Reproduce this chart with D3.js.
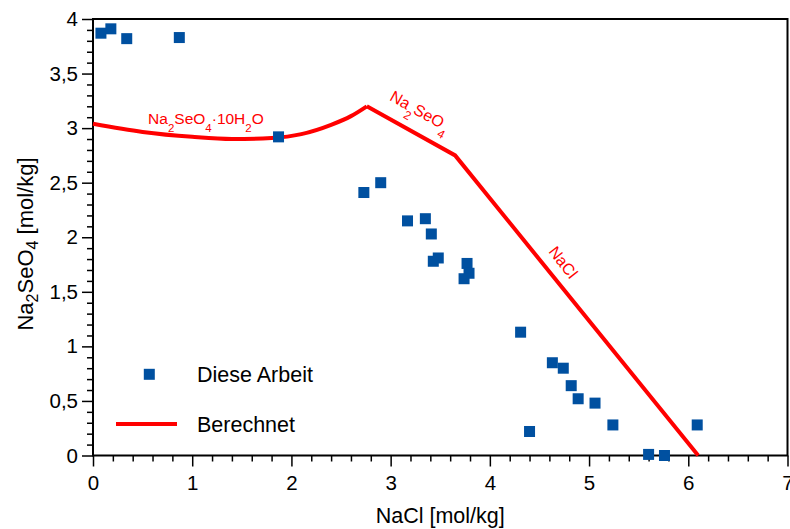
<!DOCTYPE html>
<html><head><meta charset="utf-8">
<script src="https://cdn.jsdelivr.net/npm/d3@7"></script>
<style>
body{margin:0;background:#fff;}
svg{display:block;font-family:"Liberation Sans",Arial,sans-serif;}
</style></head>
<body>
<svg id="chart" width="790" height="529"></svg>
<script>
// Experimental data ("Diese Arbeit")
const naclExp    = [0.08,0.18,0.34,0.87,1.87,2.73,2.90,3.17,3.35,3.41,3.48,3.43,3.77,3.79,3.74,4.31,4.63,4.74,4.82,4.89,5.06,5.24,4.40,5.60,5.76,6.09];
const na2seo4Exp = [3.87,3.91,3.82,3.83,2.92,2.41,2.50,2.15,2.17,2.03,1.81,1.78,1.76,1.67,1.62,1.13,0.85,0.80,0.64,0.52,0.48,0.28,0.22,0.01,0.00,0.28];
// Calculated solubility ("Berechnet"): decahydrate branch (curved) and Na2SeO4 / NaCl branches (straight)
const naclCalcHyd    = [0,0.5,1.0,1.4,1.8,2.1,2.4,2.6,2.76];
const na2seo4CalcHyd = [3.04,2.965,2.92,2.90,2.91,2.945,3.03,3.11,3.20];
const naclCalcAnh    = [2.76,3.65,6.1];
const na2seo4CalcAnh = [3.20,2.75,0];
const xTicks = [0,1,2,3,4,5,6,7];
const yTicks = [0,0.5,1,1.5,2,2.5,3,3.5,4];

const svg = d3.select("#chart");
const L=93, R=787.5, T=19, B=455.5;
const x = d3.scaleLinear().domain([0,7]).range([L,R]);
const y = d3.scaleLinear().domain([0,4]).range([B,T]);
const fmt = d => String(d).replace(".", ",");
const red = "#ff0000", blue = "#0050a0";
const FF = "Liberation Sans, Arial, sans-serif";

// minor ticks
const xMinor = d3.range(0,7.001,0.2).filter(v=>Math.abs(v-Math.round(v))>1e-6);
const yMinor = d3.range(0,4.001,0.1).filter(v=>Math.abs(v*2-Math.round(v*2))>1e-6);
svg.append("g").attr("transform",`translate(0,${B})`)
  .call(d3.axisBottom(x).tickValues(xMinor).tickSize(6).tickFormat(""))
  .call(g=>{g.select(".domain").remove(); g.selectAll("line").attr("stroke","#000").attr("stroke-width",1.5);});
svg.append("g").attr("transform",`translate(${L},0)`)
  .call(d3.axisLeft(y).tickValues(yMinor).tickSize(6).tickFormat(""))
  .call(g=>{g.select(".domain").remove(); g.selectAll("line").attr("stroke","#000").attr("stroke-width",1.5);});
// major ticks
svg.append("g").attr("transform",`translate(0,${B})`)
  .call(d3.axisBottom(x).tickValues(xTicks).tickSize(11).tickPadding(9).tickFormat(fmt))
  .call(g=>{g.select(".domain").remove(); g.selectAll("line").attr("stroke","#000").attr("stroke-width",1.5);
    g.selectAll("text").attr("font-size",20.5).attr("fill","#000").attr("font-family",FF);});
svg.append("g").attr("transform",`translate(${L},0)`)
  .call(d3.axisLeft(y).tickValues(yTicks).tickSize(11).tickPadding(4).tickFormat(fmt))
  .call(g=>{g.select(".domain").remove(); g.selectAll("line").attr("stroke","#000").attr("stroke-width",1.5);
    g.selectAll("text").attr("font-size",20.5).attr("fill","#000").attr("font-family",FF);});

// frame
svg.append("rect").attr("x",L).attr("y",T).attr("width",R-L).attr("height",B-T)
  .attr("fill","none").attr("stroke","#000").attr("stroke-width",2);

// calculated lines
svg.append("path").datum(naclCalcHyd.map((v,i)=>[v,na2seo4CalcHyd[i]]))
  .attr("d", d3.line().x(d=>x(d[0])).y(d=>y(d[1])).curve(d3.curveMonotoneX))
  .attr("fill","none").attr("stroke",red).attr("stroke-width",4);
svg.append("path").datum(naclCalcAnh.map((v,i)=>[v,na2seo4CalcAnh[i]]))
  .attr("d", d3.line().x(d=>x(d[0])).y(d=>y(d[1]))).attr("fill","none").attr("stroke",red).attr("stroke-width",4)
  .attr("stroke-linejoin","miter");

// experimental points
const ms = 11;
svg.append("g").selectAll("rect").data(naclExp.map((v,i)=>[v,na2seo4Exp[i]])).join("rect")
  .attr("x",d=>x(d[0])-ms/2).attr("y",d=>y(d[1])-ms/2).attr("width",ms).attr("height",ms).attr("fill",blue);

// annotations
function subText(sel, parts, fs, sfs, dy){
  parts.forEach(p=>{
    if(p.sub){ sel.append("tspan").attr("font-size",sfs).attr("dy",dy).text(p.t); }
    else { sel.append("tspan").attr("font-size",fs).attr("dy",p.after? -dy:0).text(p.t); }
  });
}
const t1 = svg.append("text").attr("x",x(0.555)).attr("y",y(3.04)).attr("fill",red);
subText(t1,[{t:"Na"},{t:"2",sub:true},{t:"SeO",after:true},{t:"4",sub:true},{t:"·10H",after:true},{t:"2",sub:true},{t:"O",after:true}],15.5,11.5,8.5);

const t2 = svg.append("text").attr("fill",red).attr("text-anchor","middle")
  .attr("transform",`translate(${x(3.27)},${y(3.15)+4}) rotate(29)`);
subText(t2,[{t:"Na"},{t:"2",sub:true},{t:"SeO",after:true},{t:"4",sub:true}],16,12,8.5);

svg.append("text").attr("fill",red).attr("font-size",16).attr("text-anchor","middle")
  .attr("dominant-baseline","central")
  .attr("transform",`translate(${x(4.74)},${y(1.77)}) rotate(52)`).text("NaCl");

// axis titles
svg.append("text").attr("x",(L+R)/2).attr("y",523).attr("text-anchor","middle").attr("font-size",21.5).text("NaCl [mol/kg]");
const yt = svg.append("text").attr("text-anchor","middle").attr("font-size",22)
  .attr("transform",`translate(32.5,244) rotate(-90)`);
yt.append("tspan").text("Na");
yt.append("tspan").attr("font-size",16).attr("dy",5).text("2");
yt.append("tspan").attr("dy",-5).text("SeO");
yt.append("tspan").attr("font-size",16).attr("dy",5).text("4");
yt.append("tspan").attr("dy",-5).text(" [mol/kg]");

// legend
svg.append("rect").attr("x",149.3-ms/2).attr("y",374.3-ms/2).attr("width",ms).attr("height",ms).attr("fill",blue);
svg.append("text").attr("x",197).attr("y",382).attr("font-size",21.5).text("Diese Arbeit");
svg.append("line").attr("x1",116).attr("x2",177).attr("y1",424).attr("y2",424).attr("stroke",red).attr("stroke-width",4);
svg.append("text").attr("x",197).attr("y",431.5).attr("font-size",21.5).text("Berechnet");
</script>
</body></html>
